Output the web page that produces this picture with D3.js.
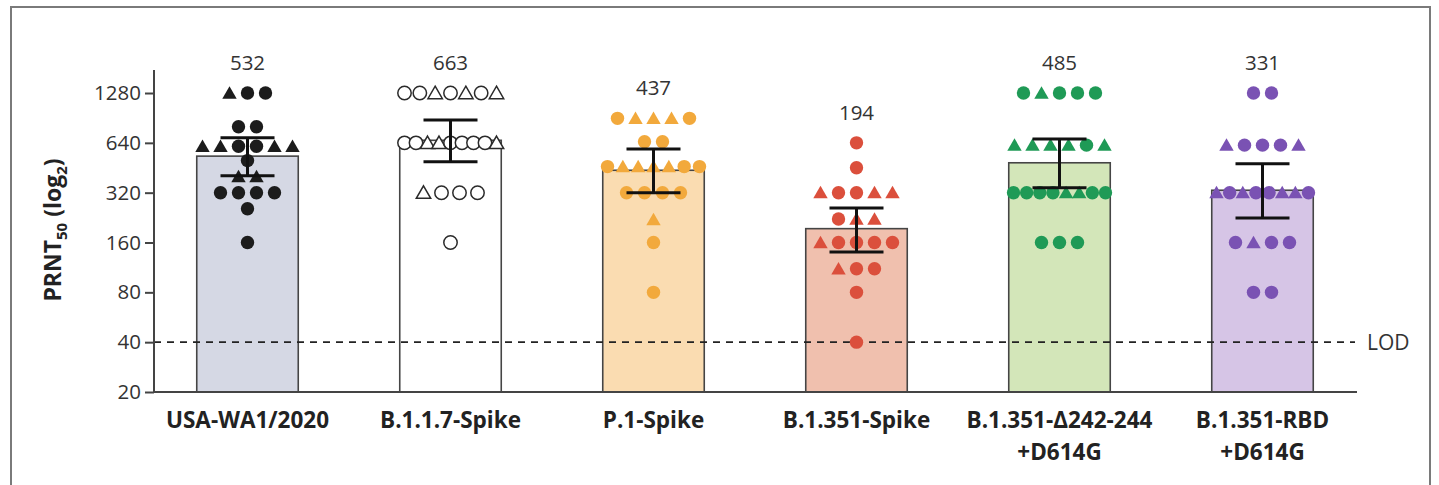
<!DOCTYPE html>
<html>
<head>
<meta charset="utf-8">
<script src="https://cdn.jsdelivr.net/npm/d3@7"></script>
<style>
  html, body { margin: 0; padding: 0; background: #fff; }
  svg { display: block; }
  text { font-family: "Open Sans", "DejaVu Sans", sans-serif; }
</style>
</head>
<body>
<svg id="chart" width="1439" height="485"></svg>
<script>
// ---------------- data ----------------
const categories = ["USA-WA1/2020", "B.1.1.7-Spike", "P.1-Spike", "B.1.351-Spike", "B.1.351-\u0394242-244\n+D614G", "B.1.351-RBD\n+D614G"];
const geoMeans = [532, 663, 437, 194, 485, 331];
const ciLower = [405, 492, 320, 140, 343, 225];
const ciUpper = [686, 880, 588, 259, 676, 478];
const yTicks = [20, 40, 80, 160, 320, 640, 1280];
const lodValue = 40;

const usaTiters = [1280,1280,1280, 800,800, 610,610,610,610,610,610, 500, 400,400, 320,320,320,320, 256, 160];
const usaShapes = ["t","c","c", "c","c", "t","t","c","c","t","t", "c", "t","t", "c","c","c","c", "c", "c"];

const b117Titers = [1280,1280,1280,1280,1280,1280,1280, 640,640,640,640,640,640,640,640,640, 320,320,320,320, 160];
const b117Shapes = ["c","c","t","c","t","c","t", "c","c","t","t","c","c","c","c","t", "t","c","c","c", "c"];

const p1Titers = [900,900,900,900,900, 650,650, 460,460,460,460,460,460,460, 320,320,320,320, 220, 160, 80];
const p1Shapes = ["c","t","t","t","c", "c","c", "c","t","t","t","t","c","c", "c","c","c","c", "t", "c", "c"];

const b1351Titers = [640, 453, 320,320,320,320,320, 222,222,222, 160,160,160,160,160, 111,111,111, 80, 40];
const b1351Shapes = ["c", "c", "t","c","c","t","t", "c","t","t", "t","c","c","c","c", "t","c","c", "c", "c"];

const delTiters = [1280,1280,1280,1280,1280, 620,620,620,620,620,620, 320,320,320,320,320,320,320,320, 160,160,160];
const delShapes = ["c","t","c","c","c", "t","t","t","t","c","t", "c","c","c","c","t","t","c","c", "c","c","c"];

const rbdTiters = [1280,1280, 620,620,620,620,620, 320,320,320,320,320,320,320,320, 160,160,160,160, 80,80];
const rbdShapes = ["c","c", "t","c","c","c","t", "t","c","t","c","c","t","t","c", "c","t","c","c", "c","c"];

const groupTiters = [usaTiters, b117Titers, p1Titers, b1351Titers, delTiters, rbdTiters];
const groupShapes = [usaShapes, b117Shapes, p1Shapes, b1351Shapes, delShapes, rbdShapes];

const barFills = ["#d5d8e4", "#ffffff", "#fadcb1", "#f0c0ae", "#d3e6b9", "#d6c5e6"];
const pointFills = ["#1c1c1c", "#ffffff", "#f2a93c", "#db4f3c", "#1f9a56", "#7a52b3"];
const pointStrokes = ["none", "#2a2a2a", "none", "none", "none", "none"];

// ---------------- layout ----------------
const svg = d3.select("#chart");
const axisX = 154, axisRight = 1357;
const yBottom = 392, yTop = 70;

// outer frame
svg.append("rect").attr("x", 11).attr("y", 7).attr("width", 1419).attr("height", 500)
  .attr("fill", "none").attr("stroke", "#7a7a7a").attr("stroke-width", 2);

const y = d3.scaleLog().base(2).domain([20, 1763]).range([yBottom, yTop]);
const x = d3.scaleBand().domain(d3.range(categories.length))
  .range([146, 1364]).paddingInner(0.5).paddingOuter(0.25);

// bars
svg.append("g").selectAll("rect").data(geoMeans).join("rect")
  .attr("x", (d, i) => x(i))
  .attr("width", x.bandwidth())
  .attr("y", d => y(d))
  .attr("height", d => yBottom - y(d))
  .attr("fill", (d, i) => barFills[i])
  .attr("stroke", "#454545").attr("stroke-width", 1.6);

// LOD line
svg.append("line").attr("x1", axisX).attr("x2", 1355)
  .attr("y1", y(lodValue)).attr("y2", y(lodValue))
  .attr("stroke", "#222").attr("stroke-width", 1.6).attr("stroke-dasharray", "7,6");
svg.append("text").attr("x", 1367).attr("y", y(lodValue) + 7.5)
  .attr("font-size", 21).attr("fill", "#333").text("LOD");

// points
const triPath = d3.symbol().type(d3.symbolTriangle).size(90)();
groupTiters.forEach((titers, gi) => {
  const cx = x(gi) + x.bandwidth() / 2;
  const rows = d3.groups(titers.map((v, k) => ({ v, s: groupShapes[gi][k] })), d => d.v);
  const g = svg.append("g");
  rows.forEach(([v, items]) => {
    const n = items.length;
    const step = n > 1 ? Math.min(18, 92 / (n - 1)) : 0;
    items.forEach((it, k) => {
      const px = cx + (k - (n - 1) / 2) * step;
      const py = y(v);
      if (it.s === "c") {
        g.append("circle").attr("cx", px).attr("cy", py).attr("r", 6.7)
          .attr("fill", pointFills[gi]).attr("stroke", pointStrokes[gi]).attr("stroke-width", 1.5);
      } else {
        g.append("path").attr("d", triPath)
          .attr("transform", `translate(${px},${py + 1.5})`)
          .attr("fill", pointFills[gi]).attr("stroke", pointStrokes[gi]).attr("stroke-width", 1.5);
      }
    });
  });
  svg.append("text").attr("x", cx).attr("y", y(d3.max(titers)) - 23)
    .attr("text-anchor", "middle").attr("font-size", 20.5).attr("fill", "#333")
    .text(geoMeans[gi]);
});

// error bars
const eb = svg.append("g").attr("stroke", "#111").attr("stroke-width", 3);
geoMeans.forEach((m, i) => {
  const cx = x(i) + x.bandwidth() / 2;
  eb.append("line").attr("x1", cx).attr("x2", cx).attr("y1", y(ciLower[i])).attr("y2", y(ciUpper[i]));
  eb.append("line").attr("x1", cx - 27).attr("x2", cx + 27).attr("y1", y(ciUpper[i])).attr("y2", y(ciUpper[i]));
  eb.append("line").attr("x1", cx - 27).attr("x2", cx + 27).attr("y1", y(ciLower[i])).attr("y2", y(ciLower[i]));
});

// y axis
const yAxis = d3.axisLeft(y).tickValues(yTicks).tickFormat(d3.format("d")).tickSize(9).tickPadding(4);
const ya = svg.append("g").attr("transform", `translate(${axisX},0)`).call(yAxis);
ya.select(".domain").attr("stroke", "#444").attr("stroke-width", 2).attr("d", `M0,${yTop}V${yBottom}`);
ya.selectAll(".tick line").attr("stroke", "#444").attr("stroke-width", 2);
ya.selectAll(".tick text").attr("font-size", 20.5).attr("fill", "#333")
  .attr("font-family", "'Open Sans', sans-serif");

// x axis baseline
svg.append("line").attr("x1", axisX - 1).attr("x2", axisRight).attr("y1", yBottom).attr("y2", yBottom)
  .attr("stroke", "#444").attr("stroke-width", 2);

// category labels
categories.forEach((c, i) => {
  const cx = x(i) + x.bandwidth() / 2;
  const t = svg.append("text").attr("x", cx).attr("y", 428)
    .attr("text-anchor", "middle").attr("font-size", 22.5).attr("font-weight", "bold").attr("fill", "#222");
  c.split("\n").forEach((line, li) => {
    t.append("tspan").attr("x", cx).attr("dy", li === 0 ? 0 : 32).text(line);
  });
});

// y axis title
const yt = svg.append("text").attr("transform", `translate(61,230) rotate(-90)`)
  .attr("text-anchor", "middle").attr("font-size", 23).attr("font-weight", "bold").attr("fill", "#222");
yt.append("tspan").text("PRNT");
yt.append("tspan").attr("font-size", 15).attr("dy", 6).text("50");
yt.append("tspan").attr("dy", -6).text(" (log");
yt.append("tspan").attr("font-size", 15).attr("dy", 6).text("2");
yt.append("tspan").attr("dy", -6).text(")");
</script>
</body>
</html>
